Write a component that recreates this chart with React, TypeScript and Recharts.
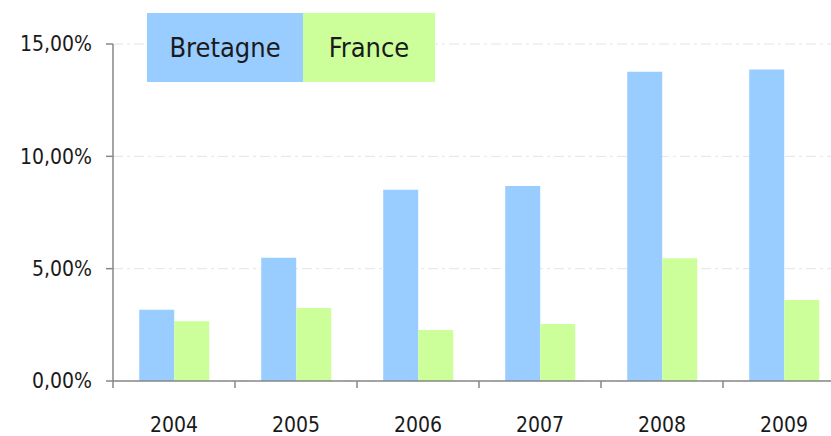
import React from "react";
import { Bar, BarChart, CartesianGrid, Legend, XAxis, YAxis } from "recharts";

const years = ["2004", "2005", "2006", "2007", "2008", "2009"];
const bretagne = [3.17, 5.49, 8.51, 8.68, 13.77, 13.86];
const france = [2.66, 3.25, 2.27, 2.54, 5.46, 3.6];
const yTicks = [0, 5, 10, 15];

const data = years.map((year, i) => ({ year, Bretagne: bretagne[i], France: france[i] }));

const BLUE = "#99ccff";
const GREEN = "#ccff99";
const AXIS = "#878787";
const FONT = "'DejaVu Sans Condensed', 'DejaVu Sans', sans-serif";

const fmt = (v: number) => v.toFixed(2).replace(".", ",") + "%";

const XTick = (props: any) => {
  const { x, y, payload } = props;
  const half = payload && payload.offset ? payload.offset : 61;
  return (
    <g>
      <line x1={x - half} y1={y} x2={x - half} y2={y + 7} stroke={AXIS} strokeWidth={1.5} />
      <text x={x} y={y + 51} textAnchor="middle" fontSize={21} fill="#1a1a1a" fontFamily={FONT}>
        {payload.value}
      </text>
    </g>
  );
};

const LegendBox = () => (
  <div style={{ display: "flex", fontFamily: FONT, fontSize: 27, color: "#1a1a1a" }}>
    <div style={{ background: BLUE, width: 156, height: 69, display: "flex", alignItems: "center", justifyContent: "center" }}>
      Bretagne
    </div>
    <div style={{ background: GREEN, width: 132, height: 69, display: "flex", alignItems: "center", justifyContent: "center" }}>
      France
    </div>
  </div>
);

const App: React.FC = () => {
  return (
    <div style={{ position: "fixed", left: 0, top: 0, width: 831, height: 436, overflow: "hidden", background: "#fff" }}>
      <BarChart width={860} height={436} data={data} margin={{ top: 44, right: 15, left: 0, bottom: 0 }}
                barCategoryGap="21.5%" barGap={0}>
        <CartesianGrid vertical={false} stroke="#e4e4e4" strokeDasharray="10 4 3 4" />
        <XAxis dataKey="year" height={55} axisLine={{ stroke: AXIS, strokeWidth: 1.5 }} tickLine={false}
               tickSize={0} tickMargin={0} tick={<XTick />} interval={0} />
        <YAxis width={113} domain={[0, 15]} ticks={yTicks} tickFormatter={fmt} interval={0}
               axisLine={{ stroke: AXIS, strokeWidth: 1.5 }} tickLine={{ stroke: AXIS, strokeWidth: 1.5 }}
               tickSize={7} tickMargin={14}
               tick={{ fontSize: 21, fill: "#1a1a1a", fontFamily: FONT }} />
        <Legend layout="horizontal" verticalAlign="middle" align="center" content={<LegendBox />}
                wrapperStyle={{ left: 147, top: 13, width: 288 }} />
        <Bar dataKey="Bretagne" fill={BLUE} isAnimationActive={false} />
        <Bar dataKey="France" fill={GREEN} isAnimationActive={false} />
      </BarChart>
    </div>
  );
};

export default App;
